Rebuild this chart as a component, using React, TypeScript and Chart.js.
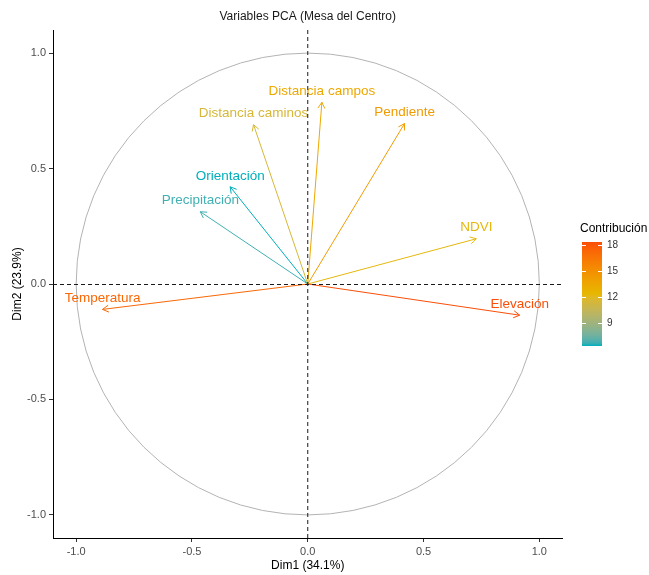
import React, { useEffect, useRef } from 'react';
import { Chart, registerables } from 'chart.js';

Chart.register(...registerables);

// Variable loadings on the first two principal dimensions
const variables = [
  'Temperatura',
  'Elevación',
  'NDVI',
  'Pendiente',
  'Distancia campos',
  'Distancia caminos',
  'Orientación',
  'Precipitación',
];
const dim1 = [-0.886, 0.915, 0.728, 0.418, 0.061, -0.234, -0.335, -0.464];
const dim2 = [-0.110, -0.135, 0.196, 0.695, 0.787, 0.690, 0.421, 0.313];
// Contribution (%) of each variable to Dim1 + Dim2
const contrib = [17.2, 18.3, 12.2, 14.2, 13.4, 11.4, 6.3, 6.7];

const axisTicks = [-1, -0.5, 0, 0.5, 1];
const legendTicks = [9, 12, 15, 18];
const paletteStops = ['#00AFBB', '#E7B800', '#FC4E07'];

const FONT = "'Liberation Sans', Arial, Helvetica, sans-serif";

// ---- colour helpers: gradient interpolated in CIE Lab ----
function hexToRgb(h: string): number[] {
  const n = parseInt(h.slice(1), 16);
  return [(n >> 16) & 255, (n >> 8) & 255, n & 255];
}
function toLinear(c: number) {
  const v = c / 255;
  return v <= 0.04045 ? v / 12.92 : Math.pow((v + 0.055) / 1.055, 2.4);
}
function fromLinear(c: number) {
  const v = c <= 0.0031308 ? 12.92 * c : 1.055 * Math.pow(c, 1 / 2.4) - 0.055;
  return Math.round(Math.max(0, Math.min(1, v)) * 255);
}
function rgbToLab(rgb: number[]): number[] {
  const [R, G, B] = rgb.map(toLinear);
  const X = (0.4124564 * R + 0.3575761 * G + 0.1804375 * B) / 0.95047;
  const Y = 0.2126729 * R + 0.7151522 * G + 0.072175 * B;
  const Z = (0.0193339 * R + 0.119192 * G + 0.9503041 * B) / 1.08883;
  const f = (t: number) => (t > 216 / 24389 ? Math.cbrt(t) : ((24389 / 27) * t + 16) / 116);
  const fx = f(X), fy = f(Y), fz = f(Z);
  return [116 * fy - 16, 500 * (fx - fy), 200 * (fy - fz)];
}
function labToRgb(lab: number[]): number[] {
  const [L, a, b] = lab;
  const fy = (L + 16) / 116;
  const fx = fy + a / 500;
  const fz = fy - b / 200;
  const inv = (t: number) => (t * t * t > 216 / 24389 ? t * t * t : (116 * t - 16) / (24389 / 27));
  const X = inv(fx) * 0.95047, Y = inv(fy), Z = inv(fz) * 1.08883;
  const R = 3.2404542 * X - 1.5371385 * Y - 0.4985314 * Z;
  const G = -0.969266 * X + 1.8760108 * Y + 0.041556 * Z;
  const B = 0.0556434 * X - 0.2040259 * Y + 1.0572252 * Z;
  return [fromLinear(R), fromLinear(G), fromLinear(B)];
}
const stopLabs = paletteStops.map((c) => rgbToLab(hexToRgb(c)));
const cMin = Math.min(...contrib);
const cMax = Math.max(...contrib);

function colourAt(t: number): string {
  const tt = Math.max(0, Math.min(1, t)) * (stopLabs.length - 1);
  const i = Math.min(stopLabs.length - 2, Math.floor(tt));
  const f = tt - i;
  const a = stopLabs[i], b = stopLabs[i + 1];
  const rgb = labToRgb([a[0] + (b[0] - a[0]) * f, a[1] + (b[1] - a[1]) * f, a[2] + (b[2] - a[2]) * f]);
  return `rgb(${rgb[0]},${rgb[1]},${rgb[2]})`;
}
const colourFor = (v: number) => colourAt((v - cMin) / (cMax - cMin));
const colours = contrib.map(colourFor);

// ---- drawing plugin: circle, arrowheads, labels, reference lines, title, colour bar ----
const pcaPlugin = {
  id: 'pcaDecor',
  beforeDatasetsDraw(chart: any) {
    const { ctx, scales } = chart;
    const cx = scales.x.getPixelForValue(0);
    const cy = scales.y.getPixelForValue(0);
    const rx = scales.x.getPixelForValue(1) - cx;
    const ry = cy - scales.y.getPixelForValue(1);
    ctx.save();
    ctx.strokeStyle = '#B3B3B3';
    ctx.lineWidth = 1;
    ctx.beginPath();
    ctx.ellipse(cx, cy, rx, ry, 0, 0, Math.PI * 2);
    ctx.stroke();
    ctx.restore();
  },
  afterDatasetsDraw(chart: any) {
    const { ctx, scales, chartArea } = chart;
    ctx.save();
    // arrowheads and labels
    chart.data.datasets.forEach((ds: any, i: number) => {
      const meta = chart.getDatasetMeta(i);
      const p0 = meta.data[0];
      const p1 = meta.data[1];
      const ang = Math.atan2(p1.y - p0.y, p1.x - p0.x);
      const len = 7;
      const spread = Math.PI / 6;
      ctx.strokeStyle = ds.borderColor;
      ctx.lineWidth = 1;
      ctx.beginPath();
      ctx.moveTo(p1.x - len * Math.cos(ang - spread), p1.y - len * Math.sin(ang - spread));
      ctx.lineTo(p1.x, p1.y);
      ctx.lineTo(p1.x - len * Math.cos(ang + spread), p1.y - len * Math.sin(ang + spread));
      ctx.stroke();

      ctx.fillStyle = ds.borderColor;
      ctx.font = `13.5px ${FONT}`;
      ctx.textAlign = 'center';
      ctx.textBaseline = 'middle';
      ctx.fillText(ds.label, p1.x, p1.y - 11);
    });

    // dashed reference lines through the origin
    const x0 = scales.x.getPixelForValue(0);
    const y0 = scales.y.getPixelForValue(0);
    ctx.strokeStyle = '#1a1a1a';
    ctx.lineWidth = 1;
    ctx.setLineDash([4, 3]);
    ctx.beginPath();
    ctx.moveTo(chartArea.left, Math.round(y0) + 0.5);
    ctx.lineTo(chartArea.right, Math.round(y0) + 0.5);
    ctx.moveTo(x0, chartArea.top);
    ctx.lineTo(x0, chartArea.bottom);
    ctx.stroke();
    ctx.setLineDash([]);
    ctx.restore();
  },
  afterDraw(chart: any) {
    const { ctx, chartArea } = chart;
    ctx.save();
    // title
    ctx.fillStyle = '#1a1a1a';
    ctx.font = `12px ${FONT}`;
    ctx.textAlign = 'center';
    ctx.textBaseline = 'middle';
    ctx.fillText('Variables PCA (Mesa del Centro)', (chartArea.left + chartArea.right) / 2, 17);

    // colour bar legend
    const barX = 582;
    const barW = 20;
    const barTop = 242;
    const barBottom = 346;
    const barH = barBottom - barTop;
    ctx.textAlign = 'left';
    ctx.fillStyle = '#000';
    ctx.font = `12px ${FONT}`;
    ctx.fillText('Contribución', 580, 229);

    const grad = ctx.createLinearGradient(0, barBottom, 0, barTop);
    const steps = 40;
    for (let s = 0; s <= steps; s++) grad.addColorStop(s / steps, colourAt(s / steps));
    ctx.fillStyle = grad;
    ctx.fillRect(barX, barTop, barW, barH);

    const yFor = (v: number) => barTop + ((cMax - v) / (cMax - cMin)) * barH;
    ctx.strokeStyle = '#ffffff';
    ctx.lineWidth = 1;
    ctx.font = `10px ${FONT}`;
    ctx.fillStyle = '#333333';
    legendTicks.forEach((v) => {
      const y = Math.round(yFor(v)) + 0.5;
      ctx.beginPath();
      ctx.moveTo(barX, y);
      ctx.lineTo(barX + 4, y);
      ctx.moveTo(barX + barW - 4, y);
      ctx.lineTo(barX + barW, y);
      ctx.stroke();
      ctx.fillText(String(v), barX + barW + 5, y);
    });
    ctx.restore();
  },
};

export default function App() {
  const canvasRef = useRef<HTMLCanvasElement | null>(null);

  useEffect(() => {
    if (!canvasRef.current) return;
    const tickFont = { family: FONT, size: 11 };
    const titleFont = { family: FONT, size: 12 };
    const chart = new Chart(canvasRef.current, {
      type: 'scatter',
      data: {
        datasets: variables.map((name, i) => ({
          label: name,
          data: [
            { x: 0, y: 0 },
            { x: dim1[i], y: dim2[i] },
          ],
          showLine: true,
          borderColor: colours[i],
          backgroundColor: colours[i],
          borderWidth: 1,
          pointRadius: 0,
          pointHoverRadius: 0,
        })),
      },
      options: {
        animation: false,
        responsive: true,
        maintainAspectRatio: false,
        events: [],
        layout: { padding: { top: 30, right: 86.5, left: 0, bottom: 0 } },
        plugins: {
          legend: { display: false },
          tooltip: { enabled: false },
          title: { display: false },
        },
        scales: {
          x: {
            type: 'linear',
            min: -1.1,
            max: 1.1,
            afterBuildTicks: (s: any) => {
              s.ticks = axisTicks.map((v) => ({ value: v }));
            },
            afterFit: (s: any) => {
              s.height = 37;
            },
            grid: { display: true, drawOnChartArea: false, drawTicks: true, tickLength: 4, tickColor: '#333333', color: '#333333' },
            border: { display: true, color: '#000000', width: 1 },
            ticks: {
              color: '#4D4D4D',
              font: tickFont,
              padding: 3,
              maxRotation: 0,
              autoSkip: false,
              callback: (v: any) => Number(v).toFixed(1),
            },
            title: { display: true, text: 'Dim1 (34.1%)', color: '#000000', font: titleFont, padding: { top: 0, bottom: 2 } },
          },
          y: {
            type: 'linear',
            min: -1.1,
            max: 1.1,
            afterBuildTicks: (s: any) => {
              s.ticks = axisTicks.map((v) => ({ value: v }));
            },
            afterFit: (s: any) => {
              s.width = 53;
            },
            grid: { display: true, drawOnChartArea: false, drawTicks: true, tickLength: 4, tickColor: '#333333', color: '#333333' },
            border: { display: true, color: '#000000', width: 1 },
            ticks: {
              color: '#4D4D4D',
              font: tickFont,
              padding: 3,
              autoSkip: false,
              callback: (v: any) => Number(v).toFixed(1),
            },
            title: { display: true, text: 'Dim2 (23.9%)', color: '#000000', font: titleFont, padding: { top: 10, bottom: 0 } },
          },
        },
      },
      plugins: [pcaPlugin],
    } as any);
    return () => chart.destroy();
  }, []);

  return (
    <div style={{ position: 'fixed', left: 0, top: 0, width: 649, height: 575, background: '#ffffff' }}>
      <canvas ref={canvasRef} />
    </div>
  );
}
